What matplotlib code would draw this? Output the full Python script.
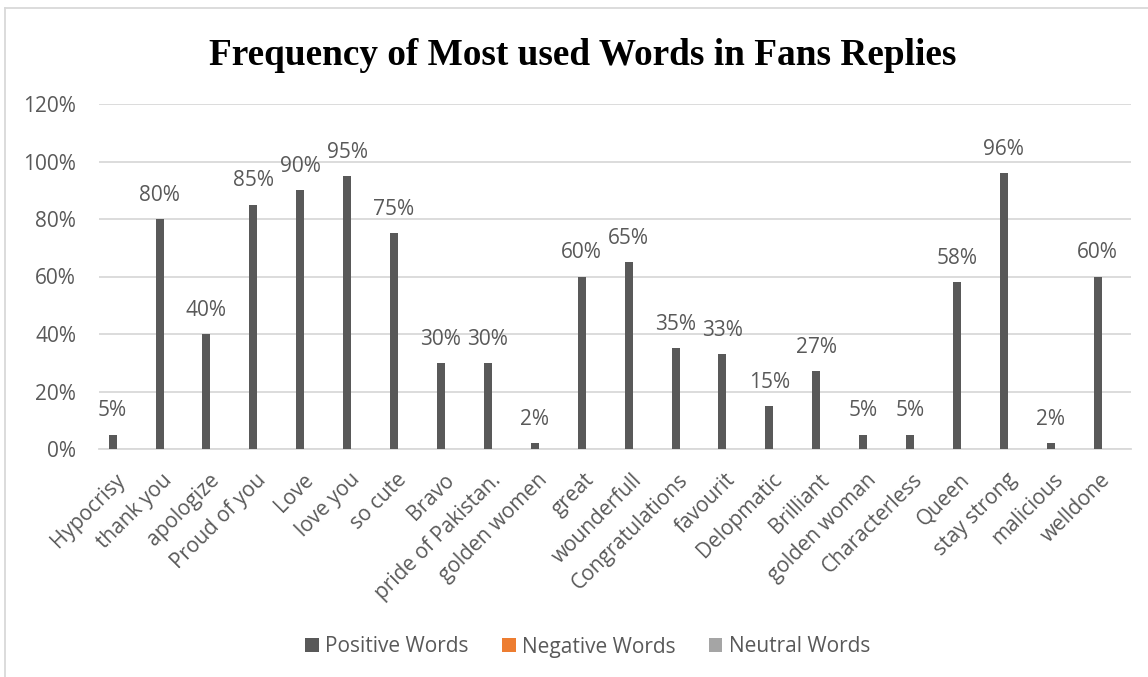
import matplotlib
matplotlib.use('Agg')

import numpy as np
import matplotlib.pyplot as plt
from matplotlib.patches import Patch
from matplotlib.lines import Line2D
from matplotlib.ticker import PercentFormatter

# data
words = ['Hypocrisy', 'thank you', 'apologize', 'Proud of you', 'Love', 'love you',
         'so cute', 'Bravo', 'pride of Pakistan.', 'golden women', 'great',
         'wounderfull', 'Congratulations', 'favourit', 'Delopmatic', 'Brilliant',
         'golden woman', 'Characterless', 'Queen', 'stay strong', 'malicious', 'welldone']
positive = [0.05, 0.80, 0.40, 0.85, 0.90, 0.95, 0.75, 0.30, 0.30, 0.02, 0.60,
            0.65, 0.35, 0.33, 0.15, 0.27, 0.05, 0.05, 0.58, 0.96, 0.02, 0.60]
series_names = ['Positive Words', 'Negative Words', 'Neutral Words']
series_colors = ['#595959', '#ED7D31', '#A5A5A5']

text_gray = '#595959'
grid_gray = '#D9D9D9'
font = 'Open Sans'
fs = 15

W, H = 1148, 677
fig = plt.figure(figsize=(W / 100, H / 100), dpi=100)
ax = fig.add_axes([99 / W, 1 - 449 / H, 1032 / W, 345 / H])

x = np.arange(len(words))
bar_w = 0.17
offset = -0.21
ax.bar(x + offset, positive, width=bar_w, color=series_colors[0], zorder=3)

for xi, v in zip(x, positive):
    ax.annotate(f'{v * 100:.0f}%', (xi + offset, v), xytext=(0, 9.5), textcoords='offset points',
                ha='center', va='bottom', fontsize=fs, color=text_gray, family=font)

ax.set_xlim(-0.5, len(words) - 0.5)
ax.set_ylim(0, 1.2)
ax.set_yticks(np.arange(0, 1.21, 0.2))
ax.yaxis.set_major_formatter(PercentFormatter(1.0, decimals=0))
ax.grid(axis='y', color=grid_gray, linewidth=1.3, zorder=0)
for s in ['top', 'right', 'left']:
    ax.spines[s].set_visible(False)
ax.spines['bottom'].set_color(grid_gray)
ax.spines['bottom'].set_linewidth(1.3)
ax.tick_params(axis='both', length=0, colors=text_gray, labelsize=fs)
ax.tick_params(axis='y', pad=16.5)
ax.set_xticks(x)
ax.set_xticklabels(words, rotation=45, ha='right', va='center', rotation_mode='anchor',
                   family=font)
ax.tick_params(axis='x', pad=20)
for lab in ax.get_yticklabels():
    lab.set_family(font)

fig.text(582.5 / W, 1 - 65 / H, 'Frequency of Most used Words in Fans Replies',
         ha='center', va='baseline', fontsize=26.8, fontweight='bold',
         family='Liberation Serif', color='black')

handles = [Patch(facecolor=c, edgecolor='none') for c in series_colors]
fig.legend(handles, series_names, loc='center', bbox_to_anchor=(587.5 / W, 1 - 647 / H),
           ncol=3, frameon=False, handlelength=0.66, handleheight=0.66, handletextpad=0.3,
           columnspacing=1.6, prop={'family': font, 'size': fs}, labelcolor=text_gray)

# chart area border (top and left edges visible)
fig.add_artist(Line2D([5 / W, 5 / W], [0, 1 - 8 / H], transform=fig.transFigure,
                      color=grid_gray, linewidth=1.3))
fig.add_artist(Line2D([5 / W, 1], [1 - 8 / H, 1 - 8 / H], transform=fig.transFigure,
                      color=grid_gray, linewidth=1.3))

fig.savefig('out.png', dpi=100)
